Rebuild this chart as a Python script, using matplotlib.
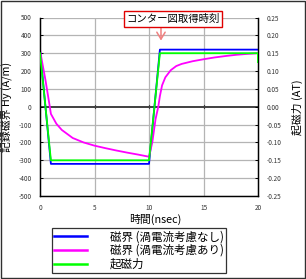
import numpy as np
import matplotlib
matplotlib.use('Agg')
import matplotlib.pyplot as plt
from matplotlib.lines import Line2D
from matplotlib.patches import Rectangle

plt.rcParams['font.family'] = ['Noto Sans CJK JP', 'DejaVu Sans']
plt.rcParams['axes.unicode_minus'] = False

# time axis (nsec) and series
t_blue = [0, 1, 10, 11, 20]
h_blue = [320, -320, -320, 320, 320]

t_mag = [0, 0.5, 0.9, 1.0, 1.5, 2, 3, 4, 5, 6, 7, 8, 9, 10,
         10.3, 10.6, 10.85, 11.0, 11.2, 11.5, 12, 12.5, 13, 14, 15,
         16, 17, 18, 19, 20]
h_mag = [315, 150, 0, -40, -95, -130, -175, -200, -218, -232, -245, -257, -268, -280,
         -200, -70, 0, 60, 120, 165, 205, 228, 240, 255, 266,
         276, 284, 291, 296, 300]

t_mmf = [0, 1, 10, 11, 20, 20]
mmf = [0.15, -0.15, -0.15, 0.15, 0.15, 0.125]

left_ticks = np.arange(-500, 501, 100)
right_ticks = np.arange(-0.25, 0.251, 0.05)
x_ticks = [0, 5, 10, 15, 20]

legend_labels = ['磁界 (渦電流考慮なし)', '磁界 (渦電流考慮あり)', '起磁力']

fig = plt.figure(figsize=(3.06, 2.79), dpi=100)
W, H = 306, 279
ax = fig.add_axes([40 / W, 1 - 196 / H, 218 / W, 178.5 / H])
ax2 = ax.twinx()

# grid
for y in left_ticks:
    if y == 0:
        continue
    ax.axhline(y, color='#b4b4b4', lw=0.9, zorder=0)
for x in [5, 10, 15]:
    ax.axvline(x, color='#b4b4b4', lw=0.9, zorder=0)
ax.axhline(0, color='#404040', lw=1.4, zorder=1)
for x in [5, 10, 15]:
    ax.plot([x, x], [-8, 8], color='#404040', lw=0.8, zorder=1)

ax.plot(t_blue, h_blue, color='#0000ff', lw=1.3, zorder=3)
ax.plot(t_mag, h_mag, color='#ff00ff', lw=1.3, zorder=4)
ax2.plot(t_mmf, mmf, color='#00ff00', lw=1.3, zorder=3)

ax.set_xlim(0, 20)
ax.set_ylim(-500, 500)
ax2.set_ylim(-0.25, 0.25)
ax.set_xticks(x_ticks)
ax.set_xticklabels([str(v) for v in x_ticks])
ax.set_yticks(left_ticks)
ax.set_yticklabels([str(v) for v in left_ticks])
ax2.set_yticks(right_ticks)
ax2.set_yticklabels(['%.2f' % v if abs(v) > 1e-9 else '0.00' for v in right_ticks])

for a in (ax, ax2):
    a.spines['top'].set_visible(False)
    a.tick_params(labelsize=4.6, labelcolor='#333333', length=2, width=0.7,
                  direction='in', pad=6)
ax.tick_params(axis='x', length=0)
ax.spines['left'].set_linewidth(1.0)
ax2.spines['right'].set_linewidth(1.0)
ax.spines['bottom'].set_linewidth(1.0)
ax.spines['bottom'].set_color('#202020')

ax.set_ylabel('記録磁界 Hy (A/m)', fontsize=7.8, labelpad=5)
ax2.set_ylabel('起磁力 (AT)', fontsize=7.8, labelpad=8)
ax.set_xlabel('時間(nsec)', fontsize=7.8, labelpad=1)
ax.xaxis.set_label_coords(0.53, -0.1)

# annotation box with arrow
ax.annotate('', xy=(11.1, 355), xytext=(11.1, 455),
            arrowprops=dict(arrowstyle='->,head_length=0.5,head_width=0.3',
                            color='#f08080', lw=1.1), annotation_clip=False, zorder=6)
fig.text(173 / W, 1 - 19 / H, 'コンター図取得時刻', fontsize=7.5, ha='center', va='center',
         bbox=dict(boxstyle='square,pad=0.25', fc='white', ec='#e00000', lw=1.0), zorder=7)

# legend
handles = [Line2D([], [], color=c, lw=1.8) for c in ['#0000ff', '#ff00ff', '#00ff00']]
leg = fig.legend(handles, legend_labels, loc='center',
                 bbox_to_anchor=(139 / W, 1 - 250.5 / H), fontsize=8.3,
                 frameon=True, fancybox=False, edgecolor='black',
                 handlelength=2.8, handletextpad=2.0, borderpad=0.25,
                 labelspacing=0.05, borderaxespad=0)
leg.get_frame().set_linewidth(0.9)

# outer frame around the whole picture
fig.patches.append(Rectangle((0.002, 0.002), 0.995, 0.995, transform=fig.transFigure,
                             fill=False, ec='#303030', lw=1.0))

fig.savefig('out.png', dpi=100)
